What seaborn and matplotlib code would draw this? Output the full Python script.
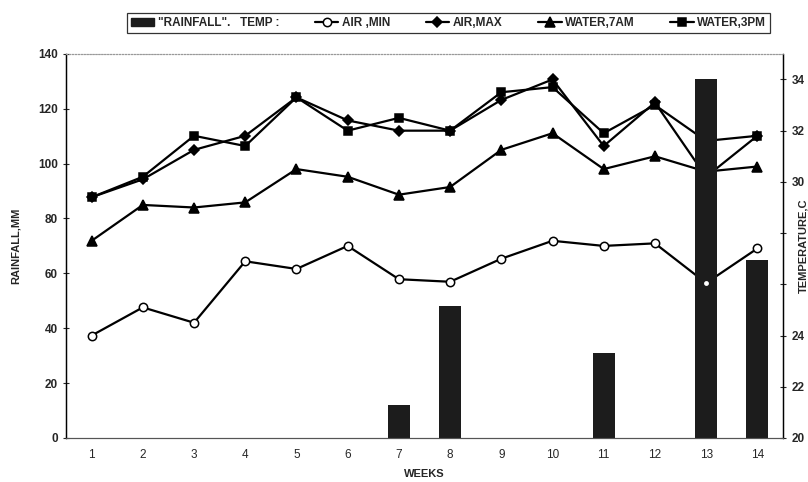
import matplotlib
matplotlib.use('Agg')
import matplotlib.pyplot as plt
from matplotlib.ticker import FixedLocator
import numpy as np
import pandas as pd
import seaborn as sns

weeks = [1, 2, 3, 4, 5, 6, 7, 8, 9, 10, 11, 12, 13, 14]
rainfall = [0, 0, 0, 0, 0, 0, 12, 48, 0, 0, 31, 0, 131, 65]
air_min = [24.0, 25.1, 24.5, 26.9, 26.6, 27.5, 26.2, 26.1, 27.0, 27.7, 27.5, 27.6, 26.05, 27.4]
air_max = [29.4, 30.1, 31.25, 31.8, 33.3, 32.4, 32.0, 32.0, 33.2, 34.0, 31.4, 33.1, 30.2, 31.8]
water_7am = [27.7, 29.1, 29.0, 29.2, 30.5, 30.2, 29.5, 29.8, 31.25, 31.9, 30.5, 31.0, 30.4, 30.6]
water_3pm = [29.4, 30.2, 31.8, 31.4, 33.3, 32.0, 32.5, 32.0, 33.5, 33.7, 31.9, 33.0, 31.6, 31.8]
temp_ticks = [20, 22, 24, 26, 28, 30, 32, 34]
# 26 and 28 sit under the axis title in the original
temp_ticklabels = ['20', '22', '24', '', '', '30', '32', '34']

sns.set_style('white')
plt.rcParams['font.family'] = ['Liberation Sans', 'DejaVu Sans']

rain_df = pd.DataFrame({'Week': weeks, 'Rainfall': rainfall})
temp_df = pd.DataFrame({'Week': weeks, 'AIR ,MIN': air_min, 'AIR,MAX': air_max,
                        'WATER,7AM': water_7am, 'WATER,3PM': water_3pm})

fig = plt.figure(figsize=(8.08, 4.82), dpi=100)
ax1 = fig.add_axes([0.0817, 0.0913, 0.8873, 0.797])
ax2 = ax1.twinx()
ax1.set_zorder(ax2.get_zorder() + 1)
ax1.patch.set_visible(False)

styles = [('AIR ,MIN', 'o', 'white', 6), ('AIR,MAX', 'D', 'black', 5),
          ('WATER,7AM', '^', 'black', 6.5), ('WATER,3PM', 's', 'black', 5.5)]
handles = []
for col, mk, fc, ms in styles:
    sns.lineplot(data=temp_df, x='Week', y=col, ax=ax2, color='black', lw=1.6,
                 marker=mk, markerfacecolor=fc, markeredgecolor='black',
                 markeredgewidth=1.1, markersize=ms)
    handles.append(plt.Line2D([], [], color='black', lw=1.6, marker=mk,
                              markerfacecolor=fc, markeredgecolor='black',
                              markeredgewidth=1.1, markersize=ms, label=col))

sns.barplot(data=rain_df, x='Week', y='Rainfall', ax=ax1, native_scale=True,
            color='#1c1c1c', width=0.43, saturation=1, linewidth=0)

# white marker of AIR MIN shows over the bars
ax3 = ax1.twinx()
ax3.set_zorder(ax1.get_zorder() + 1)
ax3.patch.set_visible(False)
ax3.plot(weeks, air_min, ls='none', marker='o', markersize=3.5,
         markerfacecolor='white', markeredgecolor='none')
ax3.set_ylim(20, 35)
ax3.axis('off')

ax1.set_xlim(0.5, 14.5)
ax1.set_ylim(0, 140)
ax2.set_ylim(20, 35)
ax1.set_yticks(range(0, 141, 20))
ax2.set_yticks(temp_ticks)
ax2.set_yticklabels(temp_ticklabels)
ax1.set_xticks(weeks)
ax1.set_xticklabels([str(w) for w in weeks], fontsize=8.5)
ax1.xaxis.set_minor_locator(FixedLocator(np.arange(0.5, 15, 1)))
ax1.tick_params(axis='x', which='major', length=0, pad=8)
ax1.tick_params(axis='x', which='minor', length=5, direction='inout', width=0.8)
ax1.tick_params(axis='y', length=5, direction='inout', width=0.8, labelsize=8.5)
ax2.tick_params(axis='y', length=5, direction='inout', width=0.8, labelsize=8.5)
for lab in ax1.get_yticklabels() + ax2.get_yticklabels():
    lab.set_fontweight('bold')

ax1.set_xlabel('WEEKS', fontsize=8, fontweight='bold', labelpad=6)
ax1.set_ylabel('RAINFALL,MM', fontsize=8, fontweight='bold', labelpad=12)
ax2.set_ylabel('TEMPERATURE,C', fontsize=8, fontweight='bold')
ax2.yaxis.set_label_coords(1.022, 0.5)

for ax in (ax1, ax2):
    ax.spines['top'].set_color('#999999')
    ax.spines['top'].set_linestyle(':')
    ax.spines['top'].set_linewidth(0.8)
    ax.spines['bottom'].set_color('#555555')
    ax.spines['bottom'].set_linewidth(0.8)
    ax.spines['left'].set_color('black')
    ax.spines['right'].set_color('black')
    ax.spines['left'].set_linewidth(0.9)
    ax.spines['right'].set_linewidth(0.9)

bar_handle = plt.Rectangle((0, 0), 1, 1, color='#1c1c1c', label='"RAINFALL".   TEMP :')
leg = fig.legend(handles=[bar_handle] + handles, loc='center', ncol=5,
                 bbox_to_anchor=(0.555, 0.952), frameon=True, fancybox=False,
                 edgecolor='black', fontsize=8.5, handlelength=2.0,
                 handletextpad=0.3, columnspacing=3.0, borderpad=0.35)
leg.get_frame().set_linewidth(0.9)
for t in leg.get_texts():
    t.set_fontweight('bold')

plt.savefig('out.png', dpi=100)
